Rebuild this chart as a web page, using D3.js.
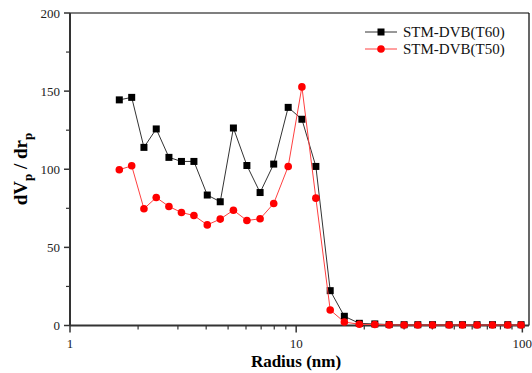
<!DOCTYPE html>
<html><head><meta charset="utf-8">
<script src="https://cdn.jsdelivr.net/npm/d3@7"></script>
<style>body{margin:0;background:#fff}svg{display:block}
text{font-family:"Times New Roman","Liberation Serif","DejaVu Serif",serif}</style>
</head><body>
<svg id="c" width="532" height="373"></svg>
<script>
const radius = [1.652,1.874,2.123,2.406,2.738,3.110,3.531,4.045,4.616,5.278,6.055,6.926,7.955,9.220,10.60,12.22,14.14,16.33,19.02,22.27,25.76,30.01,34.50,40.07,47.45,54.36,63.06,73.79,86.20,98.7];
const t60 = [144.4,146.0,114.0,125.8,107.6,105.0,105.0,83.5,79.2,126.4,102.4,85.1,103.3,139.6,132.0,101.8,22.3,5.9,1.4,1.0,0.6,0.5,0.5,0.5,0.5,0.5,0.5,0.5,0.5,0.5];
const t50 = [99.7,102.2,74.7,81.9,76.2,72.3,70.4,64.4,68.1,73.8,67.2,68.3,78.1,101.8,152.7,81.5,9.9,2.2,0.8,0.6,0.4,0.3,0.3,0.3,0.3,0.3,0.3,0.3,0.3,0.3];
const seriesNames = ["STM-DVB(T60)","STM-DVB(T50)"];
const yTicks = [0,50,100,150,200];
const yMinor = [25,75,125,175];
const xTicks = [1,10,100];

const svg = d3.select("#c");
const L=70, R=529, T=13, B=325.5;
const x = d3.scaleLog().domain([1,107]).range([L,R]);
const y = d3.scaleLinear().domain([0,200]).range([B,T]);
const axisCol = "#333";

// frame top & right
svg.append("line").attr("x1",L).attr("x2",R).attr("y1",T).attr("y2",T).attr("stroke","#000").attr("stroke-width",1.2);
svg.append("line").attr("x1",R).attr("x2",R).attr("y1",T).attr("y2",B).attr("stroke","#000").attr("stroke-width",1.2);

// x axis
const xMinor = [];
for (let d=1; d<100; d*=10) for (let k=2;k<=9;k++) xMinor.push(d*k);
const gx = svg.append("g");
gx.append("line").attr("x1",L).attr("x2",R).attr("y1",B).attr("y2",B).attr("stroke",axisCol).attr("stroke-width",2);
gx.selectAll("line.maj").data(xTicks).enter().append("line").attr("class","maj")
  .attr("x1",d=>x(d)).attr("x2",d=>x(d)).attr("y1",B).attr("y2",B+7).attr("stroke",axisCol).attr("stroke-width",1.5);
gx.selectAll("line.min").data(xMinor).enter().append("line").attr("class","min")
  .attr("x1",d=>x(d)).attr("x2",d=>x(d)).attr("y1",B).attr("y2",B+4).attr("stroke",axisCol).attr("stroke-width",1.2);
gx.selectAll("text").data(xTicks).enter().append("text")
  .attr("x",d=>x(d)).attr("y",348).attr("text-anchor","middle")
  .attr("font-size",13).attr("fill","#222").text(d=>d);

// y axis
const gy = svg.append("g");
gy.append("line").attr("x1",L).attr("x2",L).attr("y1",B).attr("y2",T).attr("stroke",axisCol).attr("stroke-width",2);
gy.selectAll("line.maj").data(yTicks).enter().append("line").attr("class","maj")
  .attr("x1",L-6).attr("x2",L).attr("y1",d=>y(d)).attr("y2",d=>y(d)).attr("stroke",axisCol).attr("stroke-width",1.5);
gy.selectAll("line.min").data(yMinor).enter().append("line").attr("class","min")
  .attr("x1",L-4).attr("x2",L).attr("y1",d=>y(d)).attr("y2",d=>y(d)).attr("stroke",axisCol).attr("stroke-width",1.2);
gy.selectAll("text").data(yTicks).enter().append("text")
  .attr("x",60).attr("y",d=>y(d)+4.5).attr("text-anchor","end")
  .attr("font-size",13).attr("fill","#222").text(d=>d);

// axis titles
svg.append("text").attr("x",296).attr("y",367).attr("text-anchor","middle")
  .attr("font-size",17).attr("font-weight","bold").text("Radius (nm)");
const yl = svg.append("text").attr("transform","translate(27,169) rotate(-90)").attr("text-anchor","middle")
  .attr("font-size",19).attr("font-weight","bold");
yl.append("tspan").text("dV");
yl.append("tspan").attr("font-size",13).attr("dy",5).text("p");
yl.append("tspan").attr("dy",-5).text(" / dr");
yl.append("tspan").attr("font-size",13).attr("dy",5).text("p");

// series
const data60 = radius.map((r,i)=>[r,t60[i]]);
const data50 = radius.map((r,i)=>[r,t50[i]]);
const line = d3.line().x(d=>x(d[0])).y(d=>y(d[1]));
svg.append("path").datum(data60).attr("d",line).attr("fill","none").attr("stroke","#333").attr("stroke-width",1);
svg.selectAll("rect.p60").data(data60).enter().append("rect").attr("class","p60")
  .attr("x",d=>x(d[0])-3.5).attr("y",d=>y(d[1])-3.5).attr("width",7).attr("height",7).attr("fill","#000");
svg.append("path").datum(data50).attr("d",line).attr("fill","none").attr("stroke","#ff4040").attr("stroke-width",1);
svg.selectAll("circle.p50").data(data50).enter().append("circle").attr("class","p50")
  .attr("cx",d=>x(d[0])).attr("cy",d=>y(d[1])).attr("r",3.8).attr("fill","#ff0000");

// legend
const lg = svg.append("g");
const rows = [{name:seriesNames[0],col:"#333",mk:"sq",yy:32},{name:seriesNames[1],col:"#ff4040",mk:"ci",yy:49}];
rows.forEach(rw=>{
  lg.append("line").attr("x1",365).attr("x2",397).attr("y1",rw.yy).attr("y2",rw.yy).attr("stroke",rw.col).attr("stroke-width",1);
  if (rw.mk==="sq") lg.append("rect").attr("x",381-3.5).attr("y",rw.yy-3.5).attr("width",7).attr("height",7).attr("fill","#000");
  else lg.append("circle").attr("cx",381).attr("cy",rw.yy).attr("r",3.8).attr("fill","#ff0000");
  lg.append("text").attr("x",403).attr("y",rw.yy+5).attr("font-size",15).attr("fill","#111").text(rw.name);
});
</script>
</body></html>
